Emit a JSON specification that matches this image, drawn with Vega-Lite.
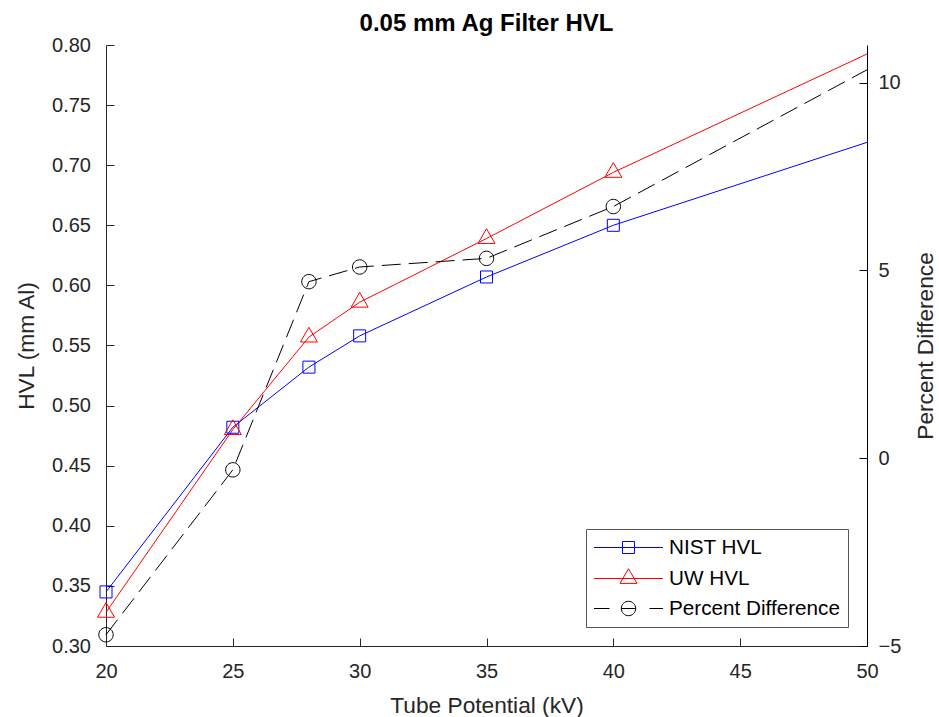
{
  "$schema": "https://vega.github.io/schema/vega-lite/v6.json",
  "width": 761,
  "height": 601,
  "autosize": "none",
  "padding": {"left": 106, "top": 45, "right": 72, "bottom": 71},
  "background": "white",
  "config": {
    "view": {"stroke": null},
    "font": "Liberation Sans",
    "axis": {
      "grid": false,
      "labelFont": "Liberation Sans",
      "titleFont": "Liberation Sans",
      "labelFontSize": 20,
      "titleFontSize": 22.7,
      "titleFontWeight": "normal",
      "labelColor": "#262626",
      "titleColor": "#262626",
      "domainColor": "#262626",
      "tickColor": "#262626",
      "domainWidth": 1,
      "tickWidth": 1,
      "tickSize": -8,
      "labelFlush": false,
      "labelOverlap": false
    }
  },
  "title": {
    "text": "0.05 mm Ag Filter HVL",
    "font": "Liberation Sans",
    "fontSize": 24,
    "fontWeight": "bold",
    "color": "#000000",
    "anchor": "middle",
    "frame": "group",
    "baseline": "alphabetic",
    "offset": -20
  },
  "data": {
    "values": [
      {"kV": 20, "series": "NIST HVL", "value": 0.345},
      {"kV": 25, "series": "NIST HVL", "value": 0.482},
      {"kV": 28, "series": "NIST HVL", "value": 0.532},
      {"kV": 30, "series": "NIST HVL", "value": 0.558},
      {"kV": 35, "series": "NIST HVL", "value": 0.607},
      {"kV": 40, "series": "NIST HVL", "value": 0.650},
      {"kV": 50, "series": "NIST HVL", "value": 0.719},
      {"kV": 20, "series": "UW HVL", "value": 0.328},
      {"kV": 25, "series": "UW HVL", "value": 0.480},
      {"kV": 28, "series": "UW HVL", "value": 0.557},
      {"kV": 30, "series": "UW HVL", "value": 0.586},
      {"kV": 35, "series": "UW HVL", "value": 0.639},
      {"kV": 40, "series": "UW HVL", "value": 0.694},
      {"kV": 50, "series": "UW HVL", "value": 0.7925},
      {"kV": 20, "series": "Percent Difference", "value": -4.7},
      {"kV": 25, "series": "Percent Difference", "value": -0.31},
      {"kV": 28, "series": "Percent Difference", "value": 4.70},
      {"kV": 30, "series": "Percent Difference", "value": 5.09},
      {"kV": 35, "series": "Percent Difference", "value": 5.32},
      {"kV": 40, "series": "Percent Difference", "value": 6.70},
      {"kV": 50, "series": "Percent Difference", "value": 10.34}
    ]
  },
  "encoding": {
    "x": {
      "field": "kV",
      "type": "quantitative",
      "scale": {"domain": [20, 50], "nice": false, "zero": false},
      "axis": {
        "values": [20, 25, 30, 35, 40, 45, 50],
        "title": "Tube Potential (kV)",
        "labelPadding": 23.5,
        "titlePadding": 13
      }
    },
    "color": {
      "field": "series",
      "type": "nominal",
      "scale": {
        "domain": ["NIST HVL", "UW HVL", "Percent Difference"],
        "range": ["#0000ff", "#ff0000", "#000000"]
      },
      "legend": {
        "title": null,
        "orient": "bottom-right",
        "offset": 19,
        "padding": 8,
        "fillColor": "white",
        "strokeColor": "#555555",
        "labelFont": "Liberation Sans",
        "labelFontSize": 20.7,
        "labelColor": "#000000",
        "labelLimit": 0,
        "symbolSize": 400,
        "symbolStrokeWidth": 1,
        "symbolOpacity": 1,
        "symbolOffset": 24,
        "labelOffset": 30,
        "rowPadding": 8,
        "encode": {
          "symbols": {
            "update": {
              "shape": {"signal": "datum.value === 'NIST HVL' ? 'M-3.45,0H3.45M-0.6,-0.6H0.6V0.6H-0.6Z' : datum.value === 'UW HVL' ? 'M-3.45,0H3.45M0,-0.98L0.85,0.49L-0.85,0.49Z' : 'M-3.45,0H-1.9M-0.72,0H0.72M2.1,0H3.45M-0.72,0A0.72,0.72 0 1,0 0.72,0A0.72,0.72 0 1,0 -0.72,0Z'"},
              "fill": {"value": "transparent"},
              "strokeDash": {"value": []},
              "opacity": {"value": 1}
            }
          }
        }
      }
    }
  },
  "layer": [
    {
      "transform": [{"filter": "datum.series !== 'Percent Difference'"}],
      "encoding": {
        "y": {
          "field": "value",
          "type": "quantitative",
          "scale": {"domain": [0.3, 0.8], "nice": false, "zero": false},
          "axis": {
            "orient": "left",
            "values": [0.3, 0.35, 0.4, 0.45, 0.5, 0.55, 0.6, 0.65, 0.7, 0.75, 0.8],
            "format": ".2f",
            "title": "HVL (mm Al)",
            "labelPadding": 23.5,
            "titlePadding": 13
          }
        }
      },
      "layer": [
        {"mark": {"type": "line", "strokeWidth": 1}},
        {
          "transform": [{"filter": "datum.series === 'NIST HVL' && datum.kV < 50"}],
          "mark": {"type": "point", "filled": false, "opacity": 1, "size": 400, "strokeWidth": 1, "shape": "M-0.6,-0.6H0.6V0.6H-0.6Z"}
        },
        {
          "transform": [{"filter": "datum.series === 'UW HVL' && datum.kV < 50"}],
          "mark": {"type": "point", "filled": false, "opacity": 1, "size": 400, "strokeWidth": 1, "shape": "M0,-0.98L0.85,0.49L-0.85,0.49Z"}
        }
      ]
    },
    {
      "transform": [{"filter": "datum.series === 'Percent Difference'"}],
      "encoding": {
        "y": {
          "field": "value",
          "type": "quantitative",
          "scale": {"domain": [-5, 11], "nice": false, "zero": false},
          "axis": {
            "orient": "right",
            "values": [-5, 0, 5, 10],
            "title": "Percent Difference",
            "titleAngle": 270,
            "titleBaseline": "top",
            "labelPadding": 19,
            "titlePadding": 14,
            "domainColor": "#000000",
            "tickColor": "#000000"
          }
        }
      },
      "layer": [
        {"mark": {"type": "line", "strokeWidth": 1, "strokeDash": [19, 8]}},
        {
          "transform": [{"filter": "datum.kV < 50"}],
          "mark": {"type": "point", "filled": false, "opacity": 1, "size": 400, "strokeWidth": 1, "shape": "M-0.72,0A0.72,0.72 0 1,0 0.72,0A0.72,0.72 0 1,0 -0.72,0Z"}
        }
      ]
    }
  ],
  "resolve": {"scale": {"y": "independent"}}
}
